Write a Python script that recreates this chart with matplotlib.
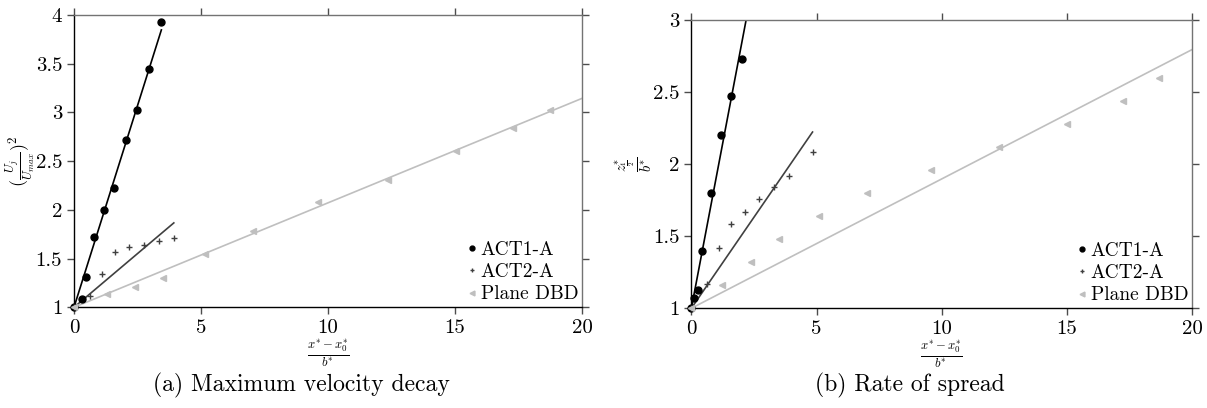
import numpy as np
import matplotlib
matplotlib.use("Agg")
import matplotlib.pyplot as plt

plt.rcParams['font.family'] = 'serif'
plt.rcParams['font.serif'] = ['cmr10']
plt.rcParams['mathtext.fontset'] = 'cm'
plt.rcParams['axes.formatter.use_mathtext'] = True

# (a) Maximum velocity decay
act1_a_x = [0, 0.32, 0.46, 0.80, 1.20, 1.59, 2.05, 2.50, 2.97, 3.44]
act1_a_y = [1, 1.09, 1.31, 1.72, 2.00, 2.22, 2.72, 3.02, 3.45, 3.93]
act2_a_x = [0, 0.63, 1.12, 1.63, 2.18, 2.77, 3.35, 3.94]
act2_a_y = [1, 1.12, 1.34, 1.57, 1.62, 1.64, 1.68, 1.71]
dbd_a_x = [0, 1.29, 2.41, 3.52, 5.14, 7.06, 9.62, 12.35, 15.05, 17.29, 18.74]
dbd_a_y = [1, 1.14, 1.21, 1.30, 1.55, 1.78, 2.08, 2.31, 2.60, 2.84, 3.03]
fit_end_a = [3.44, 3.93, 20]

# (b) Rate of spread
act1_b_x = [0, 0.12, 0.28, 0.44, 0.77, 1.17, 1.57, 2.02]
act1_b_y = [1, 1.07, 1.13, 1.40, 1.80, 2.20, 2.47, 2.73]
act2_b_x = [0, 0.61, 1.10, 1.60, 2.15, 2.71, 3.31, 3.91, 4.84]
act2_b_y = [1, 1.17, 1.42, 1.585, 1.67, 1.755, 1.84, 1.92, 2.085]
dbd_b_x = [0, 1.24, 2.37, 3.50, 5.11, 7.01, 9.56, 12.29, 14.99, 17.23, 18.67]
dbd_b_y = [1, 1.16, 1.32, 1.48, 1.64, 1.80, 1.96, 2.12, 2.28, 2.44, 2.60]
fit_end_b = [2.5, 4.84, 20]

labels = ['ACT1-A', 'ACT2-A', 'Plane DBD']
colors = ['black', '0.25', '0.75']
markers = ['o', '+', '<']
msizes = [5, 5, 5]


def slope_through_origin(x, y):
    # least squares fit of y-1 = k*x
    x = np.asarray(x)
    dy = np.asarray(y) - 1
    return (x * dy).sum() / (x * x).sum()


def draw_panel(ax, series, fit_ends, ylim, yticks, ylabel, ylab_x, ylab_size):
    for (x, y), end, lab, c, m, ms in zip(series, fit_ends, labels, colors, markers, msizes):
        k = slope_through_origin(x, y)
        xf = np.array([0, end])
        ax.plot(xf, 1 + k * xf, color=c, lw=1.2, zorder=2)
        ax.plot(x, y, ls='none', marker=m, color=c, ms=ms, mew=1.0, label=lab,
                zorder=3, clip_on=False)
    ax.set_xlim(0, 20)
    ax.set_ylim(*ylim)
    ax.set_xticks([0, 5, 10, 15, 20])
    ax.set_yticks(yticks)
    ax.set_yticklabels([f'{v:g}' for v in yticks])
    ax.set_xticklabels(['0', '5', '10', '15', '20'])
    ax.tick_params(direction='out', length=5, width=1, labelsize=15,
                   top=True, right=True, color='0.3')
    for s in ['top', 'right']:
        ax.spines[s].set_color('0.45')
    for s in ['left', 'bottom']:
        ax.spines[s].set_color('black')
    for s in ax.spines.values():
        s.set_linewidth(1.0)
    ax.set_xlabel(r'$\frac{x^{*}-x^{*}_{0}}{b^{*}}$', fontsize=13, labelpad=0)
    ax.set_ylabel(ylabel, fontsize=ylab_size)
    ax.yaxis.set_label_coords(ylab_x, 0.5)
    ax.legend(loc='lower right', frameon=False, fontsize=14, handlelength=0.5,
              handletextpad=0.2, borderaxespad=0.1, labelspacing=0.22,
              markerscale=0.7, borderpad=0.1)


fig = plt.figure(figsize=(12.07, 4.08), dpi=100)
ax1 = fig.add_axes([0.0613, 0.2468, 0.4209, 0.7164])
ax2 = fig.add_axes([0.5728, 0.2444, 0.4148, 0.7066])

draw_panel(ax1, [(act1_a_x, act1_a_y), (act2_a_x, act2_a_y), (dbd_a_x, dbd_a_y)],
           fit_end_a, (1, 4), [1, 1.5, 2, 2.5, 3, 3.5, 4],
           r'$(\frac{U_j}{U_{max}})^2$', -0.073, 13)
draw_panel(ax2, [(act1_b_x, act1_b_y), (act2_b_x, act2_b_y), (dbd_b_x, dbd_b_y)],
           fit_end_b, (1, 3), [1, 1.5, 2, 2.5, 3],
           r'$\frac{z^{*}_{\frac{1}{2}}}{b^{*}}$', -0.075, 15)

fig.text(0.25, 0.055, '(a) Maximum velocity decay', ha='center', va='center', fontsize=17)
fig.text(0.754, 0.055, '(b) Rate of spread', ha='center', va='center', fontsize=17)

fig.savefig('out.png', dpi=100)
